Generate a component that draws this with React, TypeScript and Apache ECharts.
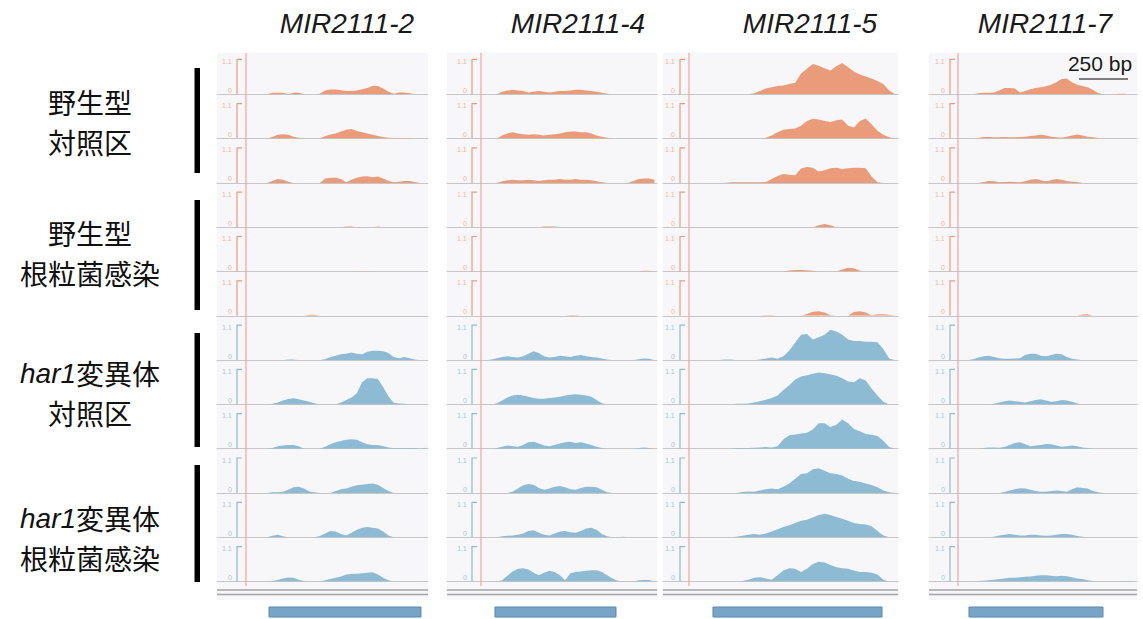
import React, { useEffect, useRef } from 'react';
import * as echarts from 'echarts';

// ---------------- DATA ----------------
const GENE_NAMES = ['MIR2111-2', 'MIR2111-4', 'MIR2111-5', 'MIR2111-7'];
const GROUP_LINE1 = ['野生型', '野生型', '{i|har1}変異体', '{i|har1}変異体'];
const GROUP_LINE2 = ['対照区', '根粒菌感染', '対照区', '根粒菌感染'];
const SCALE_TEXT = '250 bp';
const TICK_TOP = '1.1';
const TICK_ZERO = '0';
const TRACK_MAX = 1.1;
const BINS = 40;

// coverage per 40 bins across each locus window; rows 1-3 WT control, 4-6 WT inoculated, 7-9 har1 control, 10-12 har1 inoculated
const MIR2111_2: number[][] = [
  [0,0,0,0,0,0,0,0,0,0, .05,.05,.05,0,.05,.05,0,0,0,.02, .12,.15,.15,.13,.1,.1,.12,.16,.2,.27, .26,.18,.08,.02,.06,.06,.03,0,0,0],
  [0,0,0,0,0,0,0,0,0,0, .05,.12,.14,.12,.06,.03,0,0,0,0, .08,.13,.16,.22,.28,.3,.24,.2,.16,.12, .08,.05,.03,.02,.02,.02,.02,0,0,0],
  [0,0,0,0,0,0,0,0,0,0, .06,.12,.1,.04,0,0,0,0,0,0, .14,.16,.16,.12,.02,.1,.16,.2,.21,.18, .2,.14,.06,.02,.04,.06,.06,.03,0,0],
  [0,0,0,0,0,0,0,0,0,0, 0,0,0,0,0,0,0,0,0,0, 0,0,0,0,.02,.02,0,0,0,0, .02,0,0,0,0,0,0,0,0,0],
  [0,0,0,0,0,0,0,0,0,0, 0,0,0,0,0,0,0,0,0,0, 0,0,0,0,0,0,0,.01,.01,0, 0,0,0,0,0,0,0,0,0,0],
  [0,0,0,0,0,0,0,0,0,0, 0,0,0,0,0,0,0,.03,.03,0, 0,0,0,0,0,0,0,0,0,0, 0,0,0,0,0,0,0,0,0,0],
  [0,0,0,0,0,0,0,0,0,0, 0,0,0,.02,.02,0,0,0,0,0, .03,.1,.14,.18,.2,.24,.2,.18,.26,.29, .29,.28,.22,.1,.06,.1,.06,.02,0,0],
  [0,0,0,0,0,0,0,0,0,0, .02,.06,.12,.17,.19,.16,.12,.08,.04,0, 0,0,0,.06,.14,.22,.35,.7,.82,.82, .8,.55,.25,.05,.03,.02,0,0,0,0],
  [0,0,0,0,0,0,0,0,0,0, .02,.08,.1,.12,.12,.08,0,0,0,0, .06,.14,.2,.24,.28,.3,.28,.2,.14,.12, .12,.08,.04,.02,.02,.02,.02,.02,0,.03],
  [0,0,0,0,0,0,0,0,0,0, .02,.02,.04,.1,.18,.2,.14,.05,.02,0, 0,0,.06,.12,.14,.2,.24,.26,.28,.3, .26,.16,.06,0,0,0,0,0,0,0],
  [0,0,0,0,0,0,0,0,0,0, .05,.08,.03,0,0,0,0,0,0,.04, .12,.2,.18,.1,.06,.14,.24,.3,.32,.3, .28,.18,.06,0,0,0,0,0,0,0],
  [0,0,0,0,0,0,0,0,0,0, .02,.05,.1,.13,.12,.06,.02,0,0,0, .04,.08,.12,.16,.22,.24,.25,.26,.28,.29, .22,.12,.04,0,0,0,0,0,0,.02],
];

const MIR2111_4: number[][] = [
  [0,0,0,0,0,0,0,0,0,0, .08,.12,.14,.12,.1,.06,.08,.1,.08,.06, .08,.1,.1,.12,.14,.14,.12,.1,.08,.05, .02,0,0,0,0,0,0,0,0,0],
  [0,0,0,0,0,0,0,0,0,0, .1,.16,.2,.16,.14,.12,.14,.12,.1,.12, .14,.16,.2,.22,.22,.2,.2,.16,.1,.06, .03,0,0,0,0,0,0,0,0,0],
  [0,0,0,0,0,0,0,0,0,0, .05,.08,.1,.08,.08,.1,.08,.06,.08,.1, .1,.12,.1,.1,.12,.1,.1,.08,.05,.02, 0,0,0,0,0,.06,.12,.14,.14,.1],
  [0,0,0,0,0,0,0,0,0,0, 0,0,0,0,0,0,0,0,.02,.02, .02,0,0,0,0,0,0,0,0,0, 0,0,0,0,0,0,0,0,0,0],
  [0,0,0,0,0,0,0,0,0,0, 0,0,0,0,0,0,0,0,0,0, 0,0,0,0,0,0,0,0,0,0, 0,0,0,0,0,0,0,.02,.02,0],
  [0,0,0,0,0,0,0,0,0,0, 0,0,0,0,0,0,0,0,0,0, 0,0,0,.02,.02,0,0,0,0,0, 0,0,0,0,0,0,0,0,0,0],
  [0,0,0,0,0,0,0,0,.02,.06, .1,.12,.1,.08,.12,.2,.28,.22,.12,.08, .1,.14,.12,.1,.14,.16,.12,.1,.08,.05, .02,0,0,0,0,0,.03,.05,.04,0],
  [0,0,0,0,0,0,0,0,0,.04, .12,.22,.28,.3,.28,.24,.2,.18,.18,.2, .22,.24,.28,.3,.32,.3,.28,.24,.14,.04, 0,0,0,0,0,0,0,0,0,0],
  [0,0,0,0,0,0,0,0,0,.02, .06,.1,.08,.06,.12,.2,.22,.16,.1,.08, .12,.16,.2,.22,.18,.2,.16,.12,.06,.02, 0,0,0,0,0,0,.02,.04,.02,0],
  [0,0,0,0,0,0,0,0,0,0, 0,0,.04,.14,.24,.28,.26,.16,.1,.14, .2,.22,.18,.12,.1,.16,.2,.2,.18,.1, .02,0,0,0,0,0,0,0,0,0],
  [0,0,0,0,0,0,0,0,0,0, .03,.05,.06,.08,.12,.2,.22,.14,.08,.06, .12,.18,.2,.16,.14,.2,.28,.3,.24,.1, .03,0,0,.02,0,0,0,0,0,0],
  [0,0,0,0,0,0,0,0,0,0, .04,.18,.32,.4,.42,.38,.28,.2,.28,.34, .3,.2,.04,.26,.3,.32,.34,.36,.36,.3, .2,.1,.03,0,0,0,.04,.05,.05,0],
];

const MIR2111_5: number[][] = [
  [0,0,0,0,0,0,0,0,0,0, 0,0,0,0,0,.03,.1,.18,.22,.26, .28,.32,.36,.65,.8,.95,.9,.82,.75,.88, .98,.85,.72,.62,.56,.5,.42,.32,.12,0],
  [0,0,0,0,0,0,0,0,0,0, 0,0,0,0,0,0,0,.03,.1,.2, .28,.3,.32,.4,.55,.62,.6,.55,.52,.58, .6,.4,.35,.55,.63,.45,.25,.12,.04,0],
  [0,0,0,0,0,0,0,0,0,0, 0,.02,.02,.02,.02,.02,.02,.03,.12,.22, .28,.26,.24,.45,.5,.48,.36,.4,.46,.48, .44,.46,.48,.48,.46,.2,.02,0,0,0],
  [0,0,0,0,0,0,0,0,0,0, 0,0,0,0,0,0,0,0,0,0, 0,0,0,0,0,0,.06,.1,.06,0, 0,0,0,0,0,0,0,0,0,0],
  [0,0,0,0,0,0,0,0,0,0, 0,0,0,0,0,0,0,0,0,0, 0,.03,.05,.05,.04,.02,0,0,0,0, .06,.12,.1,.02,0,0,0,0,0,0],
  [0,0,0,0,0,0,0,0,0,0, 0,0,0,0,0,0,0,.02,.02,0, 0,0,0,0,.06,.13,.14,.1,.02,0, 0,0,.12,.14,.1,.02,.05,.05,.03,0],
  [0,0,0,0,0,0,0,0,0,0, .02,.02,0,0,0,0,.02,.05,.08,.04, .12,.3,.55,.8,.82,.65,.72,.8,.95,.9, .8,.65,.6,.6,.58,.58,.56,.35,.05,0],
  [0,0,0,0,0,0,0,0,0,0, 0,0,.02,.02,.03,.06,.1,.15,.2,.28, .45,.6,.78,.88,.92,.96,1.0,.98,.95,.9, .82,.72,.7,.82,.75,.5,.28,.08,0,0],
  [0,0,0,0,0,0,0,0,0,0, 0,0,.02,.02,.02,.03,.04,.05,.04,.08, .3,.42,.45,.48,.5,.6,.8,.8,.68,.75, .92,.8,.62,.55,.46,.44,.4,.25,.05,0],
  [0,0,0,0,0,0,0,0,0,0, 0,0,0,.03,.05,.04,.08,.12,.14,.12, .2,.3,.45,.6,.62,.75,.78,.7,.62,.6, .55,.45,.38,.35,.3,.25,.18,.08,.02,0],
  [0,0,0,0,0,0,0,0,0,0, 0,0,.02,.05,.08,.1,.08,.12,.18,.25, .32,.38,.45,.52,.55,.62,.7,.74,.7,.64, .58,.52,.45,.42,.4,.35,.2,.06,0,0],
  [0,0,0,0,0,0,0,0,0,0, 0,0,0,.02,.06,.12,.14,.1,.06,.2, .35,.42,.4,.3,.4,.55,.62,.6,.52,.45, .42,.4,.35,.3,.3,.28,.22,.06,0,0],
];

const MIR2111_7: number[][] = [
  [0,0,0,0,0,0,0,0,0,.03, .05,.05,.06,.12,.2,.2,.18,.06,.1,.16, .2,.22,.25,.3,.38,.48,.5,.38,.3,.26, .22,.14,.04,0,0,0,.02,.02,0,0],
  [0,0,0,0,0,0,0,0,0,.02, .05,.05,.04,.04,.05,.04,.04,.05,.06,.08, .1,.12,.1,.06,.04,.03,.06,.1,.13,.1, .06,.04,.02,0,0,0,0,0,0,0],
  [0,0,0,0,0,0,0,0,0,0, .03,.06,.05,.02,.03,.04,.03,.02,.05,.1, .12,.08,.05,.08,.12,.1,.06,.04,.03,0, 0,0,0,0,0,0,0,0,0,0],
  [0,0,0,0,0,0,0,0,0,0, 0,0,0,0,0,0,0,0,0,0, 0,0,0,0,0,0,0,0,0,0, 0,0,0,0,0,0,0,0,0,0],
  [0,0,0,0,0,0,0,0,0,0, 0,0,0,0,0,0,0,0,0,0, 0,0,0,0,0,0,0,0,0,0, 0,0,0,0,0,0,0,0,0,0],
  [0,0,0,0,0,0,0,0,0,0, 0,0,0,0,0,0,0,0,0,0, 0,0,0,0,0,0,0,0,0,.04, .05,0,0,0,0,0,0,0,0,0],
  [0,0,0,0,0,0,0,0,.03,.08, .12,.14,.1,.06,.04,.04,.05,.06,.16,.2, .2,.14,.12,.16,.2,.18,.1,.04,.02,0, 0,0,0,0,0,0,0,0,0,0],
  [0,0,0,0,0,0,0,0,0,0, 0,0,.02,.06,.1,.12,.1,.08,.06,.1, .14,.16,.12,.08,.1,.14,.12,.08,.03,0, 0,0,0,0,0,0,0,0,0,0],
  [0,0,0,0,0,0,0,0,0,0, .02,.04,.04,.03,.05,.12,.18,.2,.14,.08, .1,.12,.15,.14,.1,.06,.08,.1,.08,.04, .02,0,0,0,0,0,0,0,0,0],
  [0,0,0,0,0,0,0,0,0,0, 0,0,0,0,.03,.08,.12,.15,.14,.1, .06,.04,.04,.06,.08,.06,.04,.12,.18,.16, .14,.06,.02,0,0,0,0,0,0,0],
  [0,0,0,0,0,0,0,0,0,0, 0,0,.02,.06,.08,.1,.08,.06,.06,.08, .08,.06,.05,.06,.08,.1,.1,.08,.04,.02, 0,0,0,0,0,0,0,0,0,0],
  [0,0,0,0,0,0,0,0,0,.02, .03,.04,.06,.08,.1,.12,.12,.14,.15,.16, .18,.2,.2,.18,.17,.18,.17,.14,.1,.08, .04,.02,0,0,0,0,0,.02,.02,0],
];

// gene model extent in the same 0-40 window coordinates
const GENE_MODELS: number[][] = [[9.86, 38.67], [9.14, 32.19], [8.51, 37.28], [7.69, 33.46]];

const ALL_TRACKS = [MIR2111_2, MIR2111_4, MIR2111_5, MIR2111_7];

// ---------------- LAYOUT ----------------
const COLS = [
  { x0: 217, w: 211, red: 246, br: 237, title: 347 },
  { x0: 447, w: 210, red: 481, br: 472, title: 578 },
  { x0: 663, w: 235, red: 689, br: 680, title: 810 },
  { x0: 929, w: 208, red: 958, br: 950, title: 1045 },
];
const BASE0 = 94.3;
const STEP = 44.3;
const TRACK_H = 35;
const ORANGE = '#ea9c7a';
const BLUE = '#8dbbd3';
const ORANGE_LIGHT = '#f2b59a';
const BLUE_LIGHT = '#9fc8dd';

const GROUP_Y1 = [101.5, 233, 373, 518];
const GROUP_Y2 = [141.5, 273, 413, 558];
const GROUP_BARS = [[68, 173], [200, 310], [333, 447], [465, 582]];

function buildOption() {
  const grid: any[] = [];
  const xAxis: any[] = [];
  const yAxis: any[] = [];
  const series: any[] = [];
  const graphic: any[] = [];

  COLS.forEach((c) => {
    graphic.push({ type: 'rect', z: -10, silent: true, shape: { x: c.x0, y: 53, width: c.w, height: 547 }, style: { fill: '#f7f7f9' } });
  });

  let k = 0;
  ALL_TRACKS.forEach((tracks, ci) => {
    const c = COLS[ci];
    tracks.forEach((vals, ri) => {
      const base = BASE0 + ri * STEP;
      const color = ri < 6 ? ORANGE : BLUE;
      const light = ri < 6 ? ORANGE_LIGHT : BLUE_LIGHT;
      grid.push({ left: c.x0, width: c.w, top: base - TRACK_H, height: TRACK_H });
      xAxis.push({
        type: 'value', gridIndex: k, min: 0, max: BINS,
        axisLine: { show: true, onZero: false, lineStyle: { color: '#c6c6c6', width: 1 } },
        axisTick: { show: false }, axisLabel: { show: false }, splitLine: { show: false },
      });
      yAxis.push({ type: 'value', gridIndex: k, min: 0, max: TRACK_MAX, show: false });
      series.push({
        type: 'line', xAxisIndex: k, yAxisIndex: k, silent: true,
        data: vals.map((v, i) => [i + 0.5, v]),
        symbol: 'none', showSymbol: false,
        lineStyle: { width: 0, color },
        areaStyle: { color, opacity: 1 },
      });
      const top = base - TRACK_H;
      graphic.push({
        type: 'polyline', z: 5, silent: true,
        shape: { points: [[c.br + 5, top], [c.br, top], [c.br, base]] },
        style: { stroke: color, lineWidth: 1.2, fill: null },
      });
      graphic.push({
        type: 'text', z: 5, silent: true, x: c.br - 15, y: top + 2,
        style: { text: TICK_TOP, fontSize: 7, fontFamily: 'Liberation Sans', fill: light, align: 'left', verticalAlign: 'middle', textAlign: 'left', textVerticalAlign: 'middle' },
      });
      graphic.push({
        type: 'text', z: 5, silent: true, x: c.br - 9, y: base - 4,
        style: { text: TICK_ZERO, fontSize: 7, fontFamily: 'Liberation Sans', fill: light, align: 'left', verticalAlign: 'middle', textAlign: 'left', textVerticalAlign: 'middle' },
      });
      k++;
    });
  });

  // gene model grids
  COLS.forEach((c, ci) => {
    grid.push({ left: c.x0, width: c.w, top: 607, height: 10 });
    xAxis.push({ type: 'value', gridIndex: k, min: 0, max: BINS, show: false });
    yAxis.push({ type: 'value', gridIndex: k, min: 0, max: 1, show: false });
    series.push({
      type: 'custom', xAxisIndex: k, yAxisIndex: k, silent: true,
      data: [GENE_MODELS[ci]],
      encode: { x: [0, 1] },
      renderItem: (params: any, api: any) => {
        const s = api.coord([api.value(0), 0]);
        const e = api.coord([api.value(1), 1]);
        return {
          type: 'rect',
          shape: { x: s[0], y: e[1], width: e[0] - s[0], height: s[1] - e[1] },
          style: { fill: '#78a4c7', stroke: '#5b88ad', lineWidth: 1 },
        };
      },
    });
    k++;
  });

  COLS.forEach((c, ci) => {
    graphic.push({ type: 'line', z: 6, silent: true, shape: { x1: c.red, y1: 53, x2: c.red, y2: 586 }, style: { stroke: '#f3a2a2', lineWidth: 1.2 } });
    graphic.push({ type: 'line', z: 6, silent: true, shape: { x1: c.x0, y1: 590, x2: c.x0 + c.w, y2: 590 }, style: { stroke: '#a5a5a5', lineWidth: 1.5 } });
    graphic.push({ type: 'line', z: 6, silent: true, shape: { x1: c.x0, y1: 594.5, x2: c.x0 + c.w, y2: 594.5 }, style: { stroke: '#a5a5a5', lineWidth: 1.5 } });
    graphic.push({
      type: 'text', z: 6, silent: true, x: c.title, y: 23,
      style: { text: GENE_NAMES[ci], fontSize: 28, fontStyle: 'italic', fontFamily: 'Liberation Sans', fill: '#1a1a1a', align: 'center', verticalAlign: 'middle', textAlign: 'center', textVerticalAlign: 'middle' },
    });
  });

  // scale bar
  graphic.push({
    type: 'text', z: 6, silent: true, x: 1100, y: 63,
    style: { text: SCALE_TEXT, fontSize: 21, fontFamily: 'Liberation Sans', fill: '#1a1a1a', align: 'center', verticalAlign: 'middle', textAlign: 'center', textVerticalAlign: 'middle' },
  });
  graphic.push({ type: 'line', z: 6, silent: true, shape: { x1: 1079, y1: 79, x2: 1128, y2: 79 }, style: { stroke: '#555', lineWidth: 1.5 } });

  // group labels and bars
  const labelStyle = (text: string) => ({
    text, fontSize: 28, lineHeight: 32, fontFamily: '"Noto Sans CJK JP", "Noto Sans", sans-serif', fill: '#111',
    align: 'center', verticalAlign: 'middle', textAlign: 'center', textVerticalAlign: 'middle',
    rich: { i: { fontSize: 28, lineHeight: 32, fontStyle: 'italic', fontFamily: 'Liberation Sans', fill: '#111' } },
  });
  GROUP_LINE1.forEach((lab, gi) => {
    graphic.push({ type: 'text', z: 6, silent: true, x: 90, y: GROUP_Y1[gi], style: labelStyle(lab) });
    graphic.push({ type: 'text', z: 6, silent: true, x: 90, y: GROUP_Y2[gi], style: labelStyle(GROUP_LINE2[gi]) });
    const b = GROUP_BARS[gi];
    graphic.push({ type: 'rect', z: 6, silent: true, shape: { x: 194.5, y: b[0], width: 5.5, height: b[1] - b[0] }, style: { fill: '#000' } });
  });

  return { animation: false, backgroundColor: '#ffffff', grid, xAxis, yAxis, series, graphic };
}

export default function App() {
  const ref = useRef<HTMLDivElement>(null);
  useEffect(() => {
    if (!ref.current) return;
    const chart = echarts.init(ref.current, undefined, { renderer: 'svg' });
    chart.setOption(buildOption() as any);
    return () => chart.dispose();
  }, []);
  return <div ref={ref} style={{ position: 'fixed', left: 0, top: 0, width: 1143, height: 619 }} />;
}
